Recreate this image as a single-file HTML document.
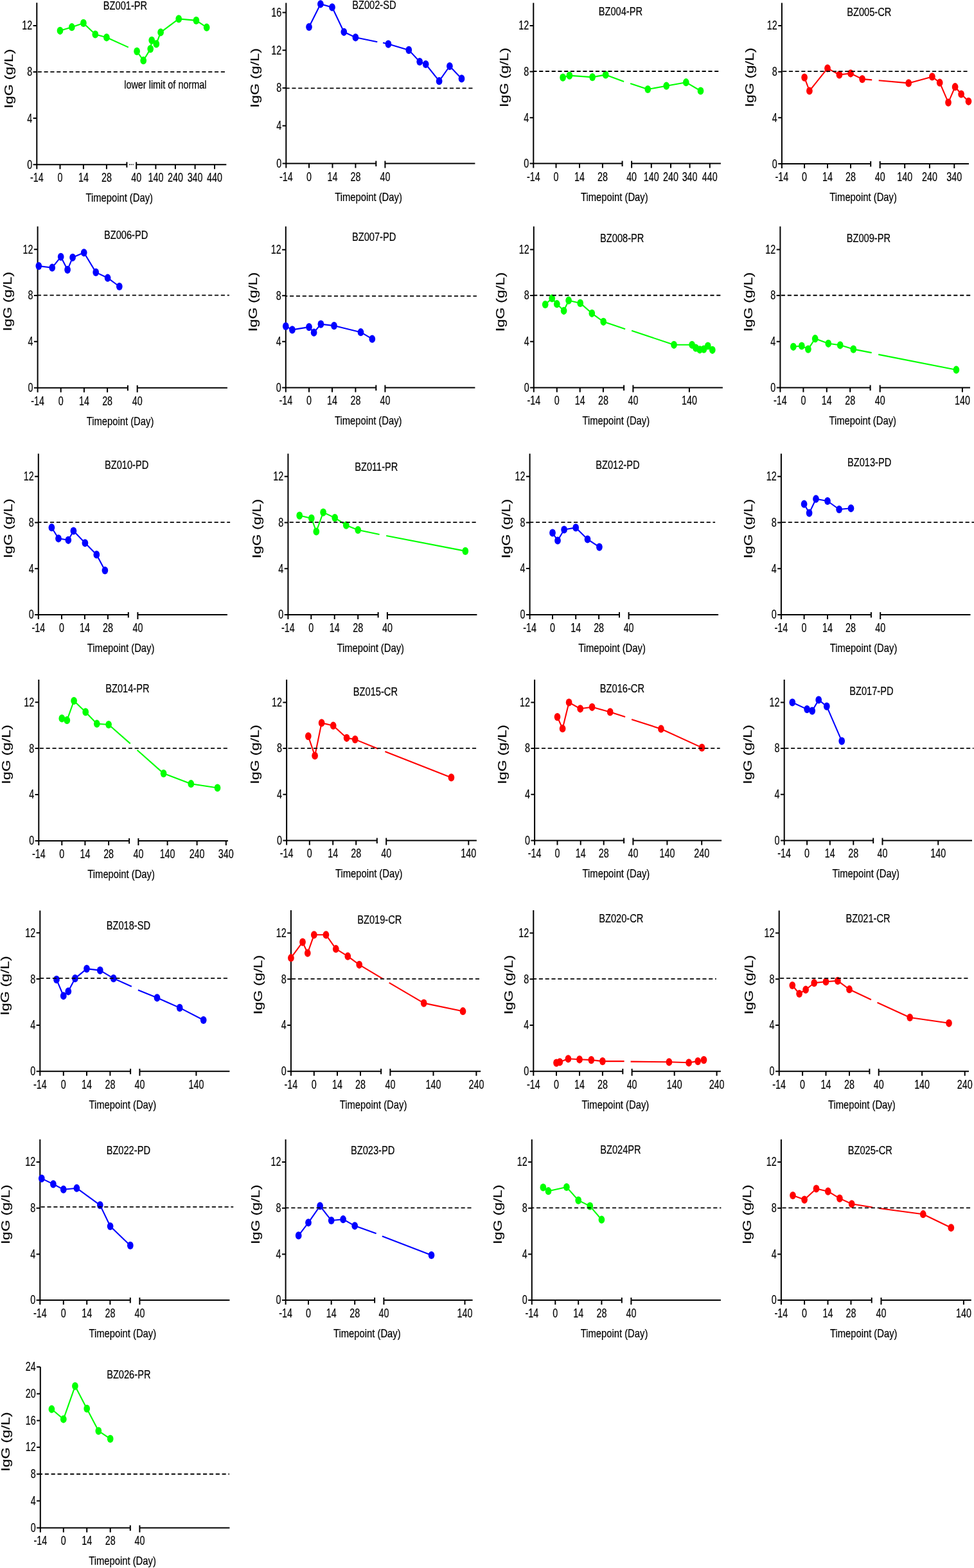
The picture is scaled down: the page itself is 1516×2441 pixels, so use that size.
<!DOCTYPE html><html><head><meta charset="utf-8"><title>IgG levels</title><style>html,body{margin:0;padding:0;background:#fff;}svg{display:block;}text{font-family:"Liberation Sans",Arial,sans-serif;fill:#000;stroke:#000;stroke-width:0.2px;}</style></head><body>
<svg width="1516" height="2441" viewBox="0 0 1516 2441">
<rect width="1516" height="2441" fill="#fff"/>
<g>
<path d="M57.3 4.3V263.2 M51.6 256.2H197.4 M212.2 256.2H352.3 M197.4 252.2V260.7 M212.2 252.2V263.2 M93.5 256.2V263.2 M129.9 256.2V263.2 M165.9 256.2V263.2 M242.4 256.2V263.2 M272.9 256.2V263.2 M303.6 256.2V263.2 M334 256.2V263.2 M51.6 39.9H57.3 M51.6 112H57.3 M51.6 184.1H57.3" stroke="#000" stroke-width="2.0" fill="none"/>
<rect x="201.05" y="255.4" width="1.3" height="1.6" fill="#000"/>
<rect x="203.65" y="255.4" width="1.3" height="1.6" fill="#000"/>
<rect x="206.35" y="255.4" width="1.3" height="1.6" fill="#000"/>
<text transform="translate(50.1 46.3) scale(0.735 1)" text-anchor="end" font-size="19.5">12</text>
<text transform="translate(50.1 118.4) scale(0.735 1)" text-anchor="end" font-size="19.5">8</text>
<text transform="translate(50.1 190.5) scale(0.735 1)" text-anchor="end" font-size="19.5">4</text>
<text transform="translate(50.1 262.6) scale(0.735 1)" text-anchor="end" font-size="19.5">0</text>
<text transform="translate(57.3 283.1) scale(0.735 1)" text-anchor="middle" font-size="19.5">-14</text>
<text transform="translate(93.5 283.1) scale(0.735 1)" text-anchor="middle" font-size="19.5">0</text>
<text transform="translate(129.9 283.1) scale(0.735 1)" text-anchor="middle" font-size="19.5">14</text>
<text transform="translate(165.9 283.1) scale(0.735 1)" text-anchor="middle" font-size="19.5">28</text>
<text transform="translate(212.2 283.1) scale(0.735 1)" text-anchor="middle" font-size="19.5">40</text>
<text transform="translate(242.4 283.1) scale(0.735 1)" text-anchor="middle" font-size="19.5">140</text>
<text transform="translate(272.9 283.1) scale(0.735 1)" text-anchor="middle" font-size="19.5">240</text>
<text transform="translate(303.6 283.1) scale(0.735 1)" text-anchor="middle" font-size="19.5">340</text>
<text transform="translate(334 283.1) scale(0.735 1)" text-anchor="middle" font-size="19.5">440</text>
<text transform="translate(185.7 314.1) scale(0.846 1)" text-anchor="middle" font-size="17.5">Timepoint (Day)</text>
<text transform="translate(20 122.5) scale(0.795 1) rotate(-90)" text-anchor="middle" font-size="23.5">IgG (g/L)</text>
<text transform="translate(194.95 14.7) scale(0.8 1)" text-anchor="middle" font-size="18.3">BZ001-PR</text>
<polyline points="93.5,47.8 111.8,42.2 129.9,35.9 148.3,53.5 165.9,58.3 199.8,73.6" fill="none" stroke="#00ff00" stroke-width="2.1" stroke-linejoin="round"/>
<polyline points="213.1,79.9 223.2,94.2 234.2,76.1 236.2,62.8 243.3,68.4 250.1,50.3 278.2,29.4 305.4,31.9 321.7,42.7" fill="none" stroke="#00ff00" stroke-width="2.1" stroke-linejoin="round"/>
<ellipse cx="93.5" cy="47.8" rx="4.85" ry="6.1" fill="#00ff00"/>
<ellipse cx="111.8" cy="42.2" rx="4.85" ry="6.1" fill="#00ff00"/>
<ellipse cx="129.9" cy="35.9" rx="4.85" ry="6.1" fill="#00ff00"/>
<ellipse cx="148.3" cy="53.5" rx="4.85" ry="6.1" fill="#00ff00"/>
<ellipse cx="165.9" cy="58.3" rx="4.85" ry="6.1" fill="#00ff00"/>
<ellipse cx="213.1" cy="79.9" rx="4.85" ry="6.1" fill="#00ff00"/>
<ellipse cx="223.2" cy="94.2" rx="4.85" ry="6.1" fill="#00ff00"/>
<ellipse cx="234.2" cy="76.1" rx="4.85" ry="6.1" fill="#00ff00"/>
<ellipse cx="236.2" cy="62.8" rx="4.85" ry="6.1" fill="#00ff00"/>
<ellipse cx="243.3" cy="68.4" rx="4.85" ry="6.1" fill="#00ff00"/>
<ellipse cx="250.1" cy="50.3" rx="4.85" ry="6.1" fill="#00ff00"/>
<ellipse cx="278.2" cy="29.4" rx="4.85" ry="6.1" fill="#00ff00"/>
<ellipse cx="305.4" cy="31.9" rx="4.85" ry="6.1" fill="#00ff00"/>
<ellipse cx="321.7" cy="42.7" rx="4.85" ry="6.1" fill="#00ff00"/>
<line x1="57.3" y1="111.9" x2="351" y2="111.9" stroke="#000" stroke-width="1.9" stroke-dasharray="6.1 3.73" stroke-dashoffset="8.38"/>
</g>
<g>
<path d="M445.3 4.5V261.6 M439.6 254.6H585.3 M599.4 254.6H739.4 M585.3 250.6V259.1 M599.4 250.6V261.6 M481 254.6V261.6 M517.5 254.6V261.6 M553.4 254.6V261.6 M439.6 19.44H445.3 M439.6 78.25H445.3 M439.6 137.06H445.3 M439.6 195.87H445.3" stroke="#000" stroke-width="2.0" fill="none"/>
<text transform="translate(438.1 25.84) scale(0.735 1)" text-anchor="end" font-size="19.5">16</text>
<text transform="translate(438.1 84.65) scale(0.735 1)" text-anchor="end" font-size="19.5">12</text>
<text transform="translate(438.1 143.46) scale(0.735 1)" text-anchor="end" font-size="19.5">8</text>
<text transform="translate(438.1 202.27) scale(0.735 1)" text-anchor="end" font-size="19.5">4</text>
<text transform="translate(438.1 261) scale(0.735 1)" text-anchor="end" font-size="19.5">0</text>
<text transform="translate(445.3 281.5) scale(0.735 1)" text-anchor="middle" font-size="19.5">-14</text>
<text transform="translate(481 281.5) scale(0.735 1)" text-anchor="middle" font-size="19.5">0</text>
<text transform="translate(517.5 281.5) scale(0.735 1)" text-anchor="middle" font-size="19.5">14</text>
<text transform="translate(553.4 281.5) scale(0.735 1)" text-anchor="middle" font-size="19.5">28</text>
<text transform="translate(599.4 281.5) scale(0.735 1)" text-anchor="middle" font-size="19.5">40</text>
<text transform="translate(573.5 312.5) scale(0.846 1)" text-anchor="middle" font-size="17.5">Timepoint (Day)</text>
<text transform="translate(402.5 121.3) scale(0.795 1) rotate(-90)" text-anchor="middle" font-size="23.5">IgG (g/L)</text>
<text transform="translate(582.4 13.8) scale(0.8 1)" text-anchor="middle" font-size="18.3">BZ002-SD</text>
<polyline points="481,42 498.9,6.3 517,11.3 535.3,49.8 553.4,58.3 587.3,65.3" fill="none" stroke="#0000ff" stroke-width="2.1" stroke-linejoin="round"/>
<polyline points="596.1,66.6 604.4,68.6 636.3,77.9 653.2,96 662.7,100 683.6,126.2 699.9,103 718.5,122.4" fill="none" stroke="#0000ff" stroke-width="2.1" stroke-linejoin="round"/>
<ellipse cx="481" cy="42" rx="4.85" ry="6.1" fill="#0000ff"/>
<ellipse cx="498.9" cy="6.3" rx="4.85" ry="6.1" fill="#0000ff"/>
<ellipse cx="517" cy="11.3" rx="4.85" ry="6.1" fill="#0000ff"/>
<ellipse cx="535.3" cy="49.8" rx="4.85" ry="6.1" fill="#0000ff"/>
<ellipse cx="553.4" cy="58.3" rx="4.85" ry="6.1" fill="#0000ff"/>
<ellipse cx="604.4" cy="68.6" rx="4.85" ry="6.1" fill="#0000ff"/>
<ellipse cx="636.3" cy="77.9" rx="4.85" ry="6.1" fill="#0000ff"/>
<ellipse cx="653.2" cy="96" rx="4.85" ry="6.1" fill="#0000ff"/>
<ellipse cx="662.7" cy="100" rx="4.85" ry="6.1" fill="#0000ff"/>
<ellipse cx="683.6" cy="126.2" rx="4.85" ry="6.1" fill="#0000ff"/>
<ellipse cx="699.9" cy="103" rx="4.85" ry="6.1" fill="#0000ff"/>
<ellipse cx="718.5" cy="122.4" rx="4.85" ry="6.1" fill="#0000ff"/>
<line x1="445.3" y1="137.4" x2="735.6" y2="137.4" stroke="#000" stroke-width="1.9" stroke-dasharray="6.1 3.72" stroke-dashoffset="0.72"/>
</g>
<g>
<path d="M830.3 4.5V261.6 M824.6 254.6H968.6 M983.1 254.6H1121.9 M968.6 250.6V259.1 M983.1 250.6V261.6 M865.5 254.6V261.6 M902 254.6V261.6 M937.9 254.6V261.6 M1013.8 254.6V261.6 M1044 254.6V261.6 M1073.6 254.6V261.6 M1104.8 254.6V261.6 M824.6 40.01H830.3 M824.6 111.57H830.3 M824.6 183.13H830.3" stroke="#000" stroke-width="2.0" fill="none"/>
<text transform="translate(823.1 46.41) scale(0.735 1)" text-anchor="end" font-size="19.5">12</text>
<text transform="translate(823.1 117.97) scale(0.735 1)" text-anchor="end" font-size="19.5">8</text>
<text transform="translate(823.1 189.53) scale(0.735 1)" text-anchor="end" font-size="19.5">4</text>
<text transform="translate(823.1 261) scale(0.735 1)" text-anchor="end" font-size="19.5">0</text>
<text transform="translate(830.3 281.5) scale(0.735 1)" text-anchor="middle" font-size="19.5">-14</text>
<text transform="translate(865.5 281.5) scale(0.735 1)" text-anchor="middle" font-size="19.5">0</text>
<text transform="translate(902 281.5) scale(0.735 1)" text-anchor="middle" font-size="19.5">14</text>
<text transform="translate(937.9 281.5) scale(0.735 1)" text-anchor="middle" font-size="19.5">28</text>
<text transform="translate(983.1 281.5) scale(0.735 1)" text-anchor="middle" font-size="19.5">40</text>
<text transform="translate(1013.8 281.5) scale(0.735 1)" text-anchor="middle" font-size="19.5">140</text>
<text transform="translate(1044 281.5) scale(0.735 1)" text-anchor="middle" font-size="19.5">240</text>
<text transform="translate(1073.6 281.5) scale(0.735 1)" text-anchor="middle" font-size="19.5">340</text>
<text transform="translate(1104.8 281.5) scale(0.735 1)" text-anchor="middle" font-size="19.5">440</text>
<text transform="translate(956.3 312.5) scale(0.846 1)" text-anchor="middle" font-size="17.5">Timepoint (Day)</text>
<text transform="translate(791.3 120.6) scale(0.795 1) rotate(-90)" text-anchor="middle" font-size="23.5">IgG (g/L)</text>
<text transform="translate(965.9 24) scale(0.8 1)" text-anchor="middle" font-size="18.3">BZ004-PR</text>
<polyline points="876.1,120.6 886.4,117.6 922.1,120.1 942.7,116.4 971.1,126.9" fill="none" stroke="#00ff00" stroke-width="2.1" stroke-linejoin="round"/>
<polyline points="981.1,129.9 1008.3,139 1037.2,133.7 1067.8,128.2 1090.5,141.5" fill="none" stroke="#00ff00" stroke-width="2.1" stroke-linejoin="round"/>
<ellipse cx="876.1" cy="120.6" rx="4.85" ry="6.1" fill="#00ff00"/>
<ellipse cx="886.4" cy="117.6" rx="4.85" ry="6.1" fill="#00ff00"/>
<ellipse cx="922.1" cy="120.1" rx="4.85" ry="6.1" fill="#00ff00"/>
<ellipse cx="942.7" cy="116.4" rx="4.85" ry="6.1" fill="#00ff00"/>
<ellipse cx="1008.3" cy="139" rx="4.85" ry="6.1" fill="#00ff00"/>
<ellipse cx="1037.2" cy="133.7" rx="4.85" ry="6.1" fill="#00ff00"/>
<ellipse cx="1067.8" cy="128.2" rx="4.85" ry="6.1" fill="#00ff00"/>
<ellipse cx="1090.5" cy="141.5" rx="4.85" ry="6.1" fill="#00ff00"/>
<line x1="830.3" y1="111" x2="1119.4" y2="111" stroke="#000" stroke-width="1.9" stroke-dasharray="6.1 3.65" stroke-dashoffset="0.9"/>
</g>
<g>
<path d="M1216.9 4.5V262.1 M1211.2 255.1H1355.2 M1369.7 255.1H1508 M1355.2 251.1V259.6 M1369.7 251.1V262.1 M1252.1 255.1V262.1 M1288 255.1V262.1 M1324 255.1V262.1 M1408.2 255.1V262.1 M1446.9 255.1V262.1 M1485.3 255.1V262.1 M1211.2 39.99H1216.9 M1211.2 111.68H1216.9 M1211.2 183.37H1216.9" stroke="#000" stroke-width="2.0" fill="none"/>
<text transform="translate(1209.7 46.39) scale(0.735 1)" text-anchor="end" font-size="19.5">12</text>
<text transform="translate(1209.7 118.08) scale(0.735 1)" text-anchor="end" font-size="19.5">8</text>
<text transform="translate(1209.7 189.77) scale(0.735 1)" text-anchor="end" font-size="19.5">4</text>
<text transform="translate(1209.7 261.5) scale(0.735 1)" text-anchor="end" font-size="19.5">0</text>
<text transform="translate(1216.9 282) scale(0.735 1)" text-anchor="middle" font-size="19.5">-14</text>
<text transform="translate(1252.1 282) scale(0.735 1)" text-anchor="middle" font-size="19.5">0</text>
<text transform="translate(1288 282) scale(0.735 1)" text-anchor="middle" font-size="19.5">14</text>
<text transform="translate(1324 282) scale(0.735 1)" text-anchor="middle" font-size="19.5">28</text>
<text transform="translate(1369.7 282) scale(0.735 1)" text-anchor="middle" font-size="19.5">40</text>
<text transform="translate(1408.2 282) scale(0.735 1)" text-anchor="middle" font-size="19.5">140</text>
<text transform="translate(1446.9 282) scale(0.735 1)" text-anchor="middle" font-size="19.5">240</text>
<text transform="translate(1485.3 282) scale(0.735 1)" text-anchor="middle" font-size="19.5">340</text>
<text transform="translate(1343.6 313) scale(0.846 1)" text-anchor="middle" font-size="17.5">Timepoint (Day)</text>
<text transform="translate(1173 120.4) scale(0.795 1) rotate(-90)" text-anchor="middle" font-size="23.5">IgG (g/L)</text>
<text transform="translate(1352.8 24.7) scale(0.8 1)" text-anchor="middle" font-size="18.3">BZ005-CR</text>
<polyline points="1252.1,120.6 1259.9,141.5 1288,106.3 1306.4,116.4 1324,114.3 1342.1,123.1 1357.2,124.4" fill="none" stroke="#ff0000" stroke-width="2.1" stroke-linejoin="round"/>
<polyline points="1367.7,125.2 1414.2,129.4 1450.9,119.4 1462.7,128.7 1476,159.6 1486.6,135.2 1496.1,146.5 1507.5,157.8" fill="none" stroke="#ff0000" stroke-width="2.1" stroke-linejoin="round"/>
<ellipse cx="1252.1" cy="120.6" rx="4.85" ry="6.1" fill="#ff0000"/>
<ellipse cx="1259.9" cy="141.5" rx="4.85" ry="6.1" fill="#ff0000"/>
<ellipse cx="1288" cy="106.3" rx="4.85" ry="6.1" fill="#ff0000"/>
<ellipse cx="1306.4" cy="116.4" rx="4.85" ry="6.1" fill="#ff0000"/>
<ellipse cx="1324" cy="114.3" rx="4.85" ry="6.1" fill="#ff0000"/>
<ellipse cx="1342.1" cy="123.1" rx="4.85" ry="6.1" fill="#ff0000"/>
<ellipse cx="1414.2" cy="129.4" rx="4.85" ry="6.1" fill="#ff0000"/>
<ellipse cx="1450.9" cy="119.4" rx="4.85" ry="6.1" fill="#ff0000"/>
<ellipse cx="1462.7" cy="128.7" rx="4.85" ry="6.1" fill="#ff0000"/>
<ellipse cx="1476" cy="159.6" rx="4.85" ry="6.1" fill="#ff0000"/>
<ellipse cx="1486.6" cy="135.2" rx="4.85" ry="6.1" fill="#ff0000"/>
<ellipse cx="1496.1" cy="146.5" rx="4.85" ry="6.1" fill="#ff0000"/>
<ellipse cx="1507.5" cy="157.8" rx="4.85" ry="6.1" fill="#ff0000"/>
<line x1="1216.9" y1="111.1" x2="1507" y2="111.1" stroke="#000" stroke-width="1.9" stroke-dasharray="6.1 3.6" stroke-dashoffset="8.4"/>
</g>
<g>
<path d="M58.6 352.6V610.7 M52.9 603.7H198.9 M213.7 603.7H353.9 M198.9 599.7V608.2 M213.7 599.7V610.7 M94.7 603.7V610.7 M130.9 603.7V610.7 M167.1 603.7V610.7 M52.9 388.17H58.6 M52.9 459.99H58.6 M52.9 531.81H58.6" stroke="#000" stroke-width="2.0" fill="none"/>
<text transform="translate(51.4 394.57) scale(0.735 1)" text-anchor="end" font-size="19.5">12</text>
<text transform="translate(51.4 466.39) scale(0.735 1)" text-anchor="end" font-size="19.5">8</text>
<text transform="translate(51.4 538.21) scale(0.735 1)" text-anchor="end" font-size="19.5">4</text>
<text transform="translate(51.4 610.1) scale(0.735 1)" text-anchor="end" font-size="19.5">0</text>
<text transform="translate(58.6 630.6) scale(0.735 1)" text-anchor="middle" font-size="19.5">-14</text>
<text transform="translate(94.7 630.6) scale(0.735 1)" text-anchor="middle" font-size="19.5">0</text>
<text transform="translate(130.9 630.6) scale(0.735 1)" text-anchor="middle" font-size="19.5">14</text>
<text transform="translate(167.1 630.6) scale(0.735 1)" text-anchor="middle" font-size="19.5">28</text>
<text transform="translate(213.7 630.6) scale(0.735 1)" text-anchor="middle" font-size="19.5">40</text>
<text transform="translate(187 661.6) scale(0.846 1)" text-anchor="middle" font-size="17.5">Timepoint (Day)</text>
<text transform="translate(18 469.25) scale(0.795 1) rotate(-90)" text-anchor="middle" font-size="23.5">IgG (g/L)</text>
<text transform="translate(196.15 371.8) scale(0.8 1)" text-anchor="middle" font-size="18.3">BZ006-PD</text>
<polyline points="60.3,414.1 81.2,416.7 94.7,399.8 105.1,419.9 113.1,400.8 130.7,393.3 149.2,423.9 167.6,432.7 185.8,446" fill="none" stroke="#0000ff" stroke-width="2.1" stroke-linejoin="round"/>
<ellipse cx="60.3" cy="414.1" rx="4.85" ry="6.1" fill="#0000ff"/>
<ellipse cx="81.2" cy="416.7" rx="4.85" ry="6.1" fill="#0000ff"/>
<ellipse cx="94.7" cy="399.8" rx="4.85" ry="6.1" fill="#0000ff"/>
<ellipse cx="105.1" cy="419.9" rx="4.85" ry="6.1" fill="#0000ff"/>
<ellipse cx="113.1" cy="400.8" rx="4.85" ry="6.1" fill="#0000ff"/>
<ellipse cx="130.7" cy="393.3" rx="4.85" ry="6.1" fill="#0000ff"/>
<ellipse cx="149.2" cy="423.9" rx="4.85" ry="6.1" fill="#0000ff"/>
<ellipse cx="167.6" cy="432.7" rx="4.85" ry="6.1" fill="#0000ff"/>
<ellipse cx="185.8" cy="446" rx="4.85" ry="6.1" fill="#0000ff"/>
<line x1="58.6" y1="459.6" x2="356.9" y2="459.6" stroke="#000" stroke-width="1.9" stroke-dasharray="6.1 3.76" stroke-dashoffset="0.7"/>
</g>
<g>
<path d="M444.8 352.6V610.4 M439.1 603.4H585.3 M599.4 603.4H739.4 M585.3 599.4V607.9 M599.4 599.4V610.4 M481 603.4V610.4 M517 603.4V610.4 M553.4 603.4V610.4 M439.1 388.69H444.8 M439.1 460.28H444.8 M439.1 531.87H444.8" stroke="#000" stroke-width="2.0" fill="none"/>
<text transform="translate(437.6 395.09) scale(0.735 1)" text-anchor="end" font-size="19.5">12</text>
<text transform="translate(437.6 466.68) scale(0.735 1)" text-anchor="end" font-size="19.5">8</text>
<text transform="translate(437.6 538.27) scale(0.735 1)" text-anchor="end" font-size="19.5">4</text>
<text transform="translate(437.6 609.8) scale(0.735 1)" text-anchor="end" font-size="19.5">0</text>
<text transform="translate(444.8 630.3) scale(0.735 1)" text-anchor="middle" font-size="19.5">-14</text>
<text transform="translate(481 630.3) scale(0.735 1)" text-anchor="middle" font-size="19.5">0</text>
<text transform="translate(517 630.3) scale(0.735 1)" text-anchor="middle" font-size="19.5">14</text>
<text transform="translate(553.4 630.3) scale(0.735 1)" text-anchor="middle" font-size="19.5">28</text>
<text transform="translate(599.4 630.3) scale(0.735 1)" text-anchor="middle" font-size="19.5">40</text>
<text transform="translate(573.2 661.3) scale(0.846 1)" text-anchor="middle" font-size="17.5">Timepoint (Day)</text>
<text transform="translate(400 470) scale(0.795 1) rotate(-90)" text-anchor="middle" font-size="23.5">IgG (g/L)</text>
<text transform="translate(582.1 374.5) scale(0.8 1)" text-anchor="middle" font-size="18.3">BZ007-PD</text>
<polyline points="444.8,507.9 454.9,513.4 481,509.1 488.6,517.7 499.4,504.6 520,507.1 561.5,517.2 579.3,527.7" fill="none" stroke="#0000ff" stroke-width="2.1" stroke-linejoin="round"/>
<ellipse cx="444.8" cy="507.9" rx="4.85" ry="6.1" fill="#0000ff"/>
<ellipse cx="454.9" cy="513.4" rx="4.85" ry="6.1" fill="#0000ff"/>
<ellipse cx="481" cy="509.1" rx="4.85" ry="6.1" fill="#0000ff"/>
<ellipse cx="488.6" cy="517.7" rx="4.85" ry="6.1" fill="#0000ff"/>
<ellipse cx="499.4" cy="504.6" rx="4.85" ry="6.1" fill="#0000ff"/>
<ellipse cx="520" cy="507.1" rx="4.85" ry="6.1" fill="#0000ff"/>
<ellipse cx="561.5" cy="517.2" rx="4.85" ry="6.1" fill="#0000ff"/>
<ellipse cx="579.3" cy="527.7" rx="4.85" ry="6.1" fill="#0000ff"/>
<line x1="444.8" y1="460.9" x2="741.9" y2="460.9" stroke="#000" stroke-width="1.9" stroke-dasharray="6.1 3.74" stroke-dashoffset="3.58"/>
</g>
<g>
<path d="M830.8 352.6V610.4 M825.1 603.4H971.1 M985.4 603.4H1124.9 M971.1 599.4V607.9 M985.4 599.4V610.4 M866.8 603.4V610.4 M902.7 603.4V610.4 M938.9 603.4V610.4 M1072.9 603.4V610.4 M825.1 388.38H830.8 M825.1 460.01H830.8 M825.1 531.64H830.8" stroke="#000" stroke-width="2.0" fill="none"/>
<text transform="translate(823.6 394.78) scale(0.735 1)" text-anchor="end" font-size="19.5">12</text>
<text transform="translate(823.6 466.41) scale(0.735 1)" text-anchor="end" font-size="19.5">8</text>
<text transform="translate(823.6 538.04) scale(0.735 1)" text-anchor="end" font-size="19.5">4</text>
<text transform="translate(823.6 609.8) scale(0.735 1)" text-anchor="end" font-size="19.5">0</text>
<text transform="translate(830.8 630.3) scale(0.735 1)" text-anchor="middle" font-size="19.5">-14</text>
<text transform="translate(866.8 630.3) scale(0.735 1)" text-anchor="middle" font-size="19.5">0</text>
<text transform="translate(902.7 630.3) scale(0.735 1)" text-anchor="middle" font-size="19.5">14</text>
<text transform="translate(938.9 630.3) scale(0.735 1)" text-anchor="middle" font-size="19.5">28</text>
<text transform="translate(985.4 630.3) scale(0.735 1)" text-anchor="middle" font-size="19.5">40</text>
<text transform="translate(1072.9 630.3) scale(0.735 1)" text-anchor="middle" font-size="19.5">140</text>
<text transform="translate(958.8 661.3) scale(0.846 1)" text-anchor="middle" font-size="17.5">Timepoint (Day)</text>
<text transform="translate(785 470) scale(0.795 1) rotate(-90)" text-anchor="middle" font-size="23.5">IgG (g/L)</text>
<text transform="translate(968.2 377) scale(0.8 1)" text-anchor="middle" font-size="18.3">BZ008-PR</text>
<polyline points="848.7,474 859.2,464.4 866.8,473.2 877.6,483.8 885.1,467.7 903.2,471.9 921.3,487.8 939.2,500.8 973.1,512.2" fill="none" stroke="#00ff00" stroke-width="2.1" stroke-linejoin="round"/>
<polyline points="983.1,514.7 1049,536.8 1077.1,536.8 1082.9,541.6 1089.2,544.3 1095.5,543.6 1101.8,538.5 1108.8,544.8" fill="none" stroke="#00ff00" stroke-width="2.1" stroke-linejoin="round"/>
<ellipse cx="848.7" cy="474" rx="4.85" ry="6.1" fill="#00ff00"/>
<ellipse cx="859.2" cy="464.4" rx="4.85" ry="6.1" fill="#00ff00"/>
<ellipse cx="866.8" cy="473.2" rx="4.85" ry="6.1" fill="#00ff00"/>
<ellipse cx="877.6" cy="483.8" rx="4.85" ry="6.1" fill="#00ff00"/>
<ellipse cx="885.1" cy="467.7" rx="4.85" ry="6.1" fill="#00ff00"/>
<ellipse cx="903.2" cy="471.9" rx="4.85" ry="6.1" fill="#00ff00"/>
<ellipse cx="921.3" cy="487.8" rx="4.85" ry="6.1" fill="#00ff00"/>
<ellipse cx="939.2" cy="500.8" rx="4.85" ry="6.1" fill="#00ff00"/>
<ellipse cx="1049" cy="536.8" rx="4.85" ry="6.1" fill="#00ff00"/>
<ellipse cx="1077.1" cy="536.8" rx="4.85" ry="6.1" fill="#00ff00"/>
<ellipse cx="1082.9" cy="541.6" rx="4.85" ry="6.1" fill="#00ff00"/>
<ellipse cx="1089.2" cy="544.3" rx="4.85" ry="6.1" fill="#00ff00"/>
<ellipse cx="1095.5" cy="543.6" rx="4.85" ry="6.1" fill="#00ff00"/>
<ellipse cx="1101.8" cy="538.5" rx="4.85" ry="6.1" fill="#00ff00"/>
<ellipse cx="1108.8" cy="544.8" rx="4.85" ry="6.1" fill="#00ff00"/>
<line x1="830.8" y1="459.7" x2="1121.9" y2="459.7" stroke="#000" stroke-width="1.9" stroke-dasharray="6.1 3.73" stroke-dashoffset="0.64"/>
</g>
<g>
<path d="M1214.4 352.6V610.4 M1208.7 603.4H1354.6 M1369.7 603.4H1510 M1354.6 599.4V607.9 M1369.7 599.4V610.4 M1250.4 603.4V610.4 M1286.8 603.4V610.4 M1323.2 603.4V610.4 M1497.9 603.4V610.4 M1208.7 388.38H1214.4 M1208.7 460.01H1214.4 M1208.7 531.64H1214.4" stroke="#000" stroke-width="2.0" fill="none"/>
<text transform="translate(1207.2 394.78) scale(0.735 1)" text-anchor="end" font-size="19.5">12</text>
<text transform="translate(1207.2 466.41) scale(0.735 1)" text-anchor="end" font-size="19.5">8</text>
<text transform="translate(1207.2 538.04) scale(0.735 1)" text-anchor="end" font-size="19.5">4</text>
<text transform="translate(1207.2 609.8) scale(0.735 1)" text-anchor="end" font-size="19.5">0</text>
<text transform="translate(1214.4 630.3) scale(0.735 1)" text-anchor="middle" font-size="19.5">-14</text>
<text transform="translate(1250.4 630.3) scale(0.735 1)" text-anchor="middle" font-size="19.5">0</text>
<text transform="translate(1286.8 630.3) scale(0.735 1)" text-anchor="middle" font-size="19.5">14</text>
<text transform="translate(1323.2 630.3) scale(0.735 1)" text-anchor="middle" font-size="19.5">28</text>
<text transform="translate(1369.7 630.3) scale(0.735 1)" text-anchor="middle" font-size="19.5">40</text>
<text transform="translate(1497.9 630.3) scale(0.735 1)" text-anchor="middle" font-size="19.5">140</text>
<text transform="translate(1342.7 661.3) scale(0.846 1)" text-anchor="middle" font-size="17.5">Timepoint (Day)</text>
<text transform="translate(1171.1 470) scale(0.795 1) rotate(-90)" text-anchor="middle" font-size="23.5">IgG (g/L)</text>
<text transform="translate(1351.9 377) scale(0.8 1)" text-anchor="middle" font-size="18.3">BZ009-PR</text>
<polyline points="1234.8,539.8 1247.8,538.5 1257.9,543.6 1268.7,527.2 1289.3,534.8 1307.7,537.3 1328.3,543.6 1356.7,549.1" fill="none" stroke="#00ff00" stroke-width="2.1" stroke-linejoin="round"/>
<polyline points="1367.2,551.9 1488.4,575.7" fill="none" stroke="#00ff00" stroke-width="2.1" stroke-linejoin="round"/>
<ellipse cx="1234.8" cy="539.8" rx="4.85" ry="6.1" fill="#00ff00"/>
<ellipse cx="1247.8" cy="538.5" rx="4.85" ry="6.1" fill="#00ff00"/>
<ellipse cx="1257.9" cy="543.6" rx="4.85" ry="6.1" fill="#00ff00"/>
<ellipse cx="1268.7" cy="527.2" rx="4.85" ry="6.1" fill="#00ff00"/>
<ellipse cx="1289.3" cy="534.8" rx="4.85" ry="6.1" fill="#00ff00"/>
<ellipse cx="1307.7" cy="537.3" rx="4.85" ry="6.1" fill="#00ff00"/>
<ellipse cx="1328.3" cy="543.6" rx="4.85" ry="6.1" fill="#00ff00"/>
<ellipse cx="1488.4" cy="575.7" rx="4.85" ry="6.1" fill="#00ff00"/>
<line x1="1214.4" y1="459.7" x2="1510.5" y2="459.7" stroke="#000" stroke-width="1.9" stroke-dasharray="6.1 3.84" stroke-dashoffset="8.5"/>
</g>
<g>
<path d="M59.8 706.3V963.9 M54.1 956.9H199.8 M214.4 956.9H353.9 M199.8 952.9V961.4 M214.4 952.9V963.9 M96 956.9V963.9 M131.9 956.9V963.9 M167.9 956.9V963.9 M54.1 741.79H59.8 M54.1 813.48H59.8 M54.1 885.17H59.8" stroke="#000" stroke-width="2.0" fill="none"/>
<text transform="translate(52.6 748.19) scale(0.735 1)" text-anchor="end" font-size="19.5">12</text>
<text transform="translate(52.6 819.88) scale(0.735 1)" text-anchor="end" font-size="19.5">8</text>
<text transform="translate(52.6 891.57) scale(0.735 1)" text-anchor="end" font-size="19.5">4</text>
<text transform="translate(52.6 963.3) scale(0.735 1)" text-anchor="end" font-size="19.5">0</text>
<text transform="translate(59.8 983.8) scale(0.735 1)" text-anchor="middle" font-size="19.5">-14</text>
<text transform="translate(96 983.8) scale(0.735 1)" text-anchor="middle" font-size="19.5">0</text>
<text transform="translate(131.9 983.8) scale(0.735 1)" text-anchor="middle" font-size="19.5">14</text>
<text transform="translate(167.9 983.8) scale(0.735 1)" text-anchor="middle" font-size="19.5">28</text>
<text transform="translate(214.4 983.8) scale(0.735 1)" text-anchor="middle" font-size="19.5">40</text>
<text transform="translate(188.1 1014.8) scale(0.846 1)" text-anchor="middle" font-size="17.5">Timepoint (Day)</text>
<text transform="translate(18.7 822.6) scale(0.795 1) rotate(-90)" text-anchor="middle" font-size="23.5">IgG (g/L)</text>
<text transform="translate(197.1 729.5) scale(0.8 1)" text-anchor="middle" font-size="18.3">BZ010-PD</text>
<polyline points="80.4,821.2 91,838.3 106.3,840.8 114.4,826.5 132.4,845.3 150.3,863.4 163.4,888" fill="none" stroke="#0000ff" stroke-width="2.1" stroke-linejoin="round"/>
<ellipse cx="80.4" cy="821.2" rx="4.85" ry="6.1" fill="#0000ff"/>
<ellipse cx="91" cy="838.3" rx="4.85" ry="6.1" fill="#0000ff"/>
<ellipse cx="106.3" cy="840.8" rx="4.85" ry="6.1" fill="#0000ff"/>
<ellipse cx="114.4" cy="826.5" rx="4.85" ry="6.1" fill="#0000ff"/>
<ellipse cx="132.4" cy="845.3" rx="4.85" ry="6.1" fill="#0000ff"/>
<ellipse cx="150.3" cy="863.4" rx="4.85" ry="6.1" fill="#0000ff"/>
<ellipse cx="163.4" cy="888" rx="4.85" ry="6.1" fill="#0000ff"/>
<line x1="59.8" y1="813.1" x2="358.1" y2="813.1" stroke="#000" stroke-width="1.9" stroke-dasharray="6.1 3.73" stroke-dashoffset="1.45"/>
</g>
<g>
<path d="M448.4 706.3V963.9 M442.7 956.9H588.6 M602.9 956.9H742.4 M588.6 952.9V961.4 M602.9 952.9V963.9 M484.3 956.9V963.9 M520.7 956.9V963.9 M557.2 956.9V963.9 M442.7 741.81H448.4 M442.7 813.52H448.4 M442.7 885.23H448.4" stroke="#000" stroke-width="2.0" fill="none"/>
<text transform="translate(441.2 748.21) scale(0.735 1)" text-anchor="end" font-size="19.5">12</text>
<text transform="translate(441.2 819.92) scale(0.735 1)" text-anchor="end" font-size="19.5">8</text>
<text transform="translate(441.2 891.63) scale(0.735 1)" text-anchor="end" font-size="19.5">4</text>
<text transform="translate(441.2 963.3) scale(0.735 1)" text-anchor="end" font-size="19.5">0</text>
<text transform="translate(448.4 983.8) scale(0.735 1)" text-anchor="middle" font-size="19.5">-14</text>
<text transform="translate(484.3 983.8) scale(0.735 1)" text-anchor="middle" font-size="19.5">0</text>
<text transform="translate(520.7 983.8) scale(0.735 1)" text-anchor="middle" font-size="19.5">14</text>
<text transform="translate(557.2 983.8) scale(0.735 1)" text-anchor="middle" font-size="19.5">28</text>
<text transform="translate(602.9 983.8) scale(0.735 1)" text-anchor="middle" font-size="19.5">40</text>
<text transform="translate(576.7 1014.8) scale(0.846 1)" text-anchor="middle" font-size="17.5">Timepoint (Day)</text>
<text transform="translate(406.3 823) scale(0.795 1) rotate(-90)" text-anchor="middle" font-size="23.5">IgG (g/L)</text>
<text transform="translate(585.8 732.9) scale(0.8 1)" text-anchor="middle" font-size="18.3">BZ011-PR</text>
<polyline points="466.2,802.6 484.8,806.9 492.3,827.5 503.1,797.6 521.2,806.1 538.8,817.7 557.2,825 590.6,832" fill="none" stroke="#00ff00" stroke-width="2.1" stroke-linejoin="round"/>
<polyline points="601.2,834 724.3,857.9" fill="none" stroke="#00ff00" stroke-width="2.1" stroke-linejoin="round"/>
<ellipse cx="466.2" cy="802.6" rx="4.85" ry="6.1" fill="#00ff00"/>
<ellipse cx="484.8" cy="806.9" rx="4.85" ry="6.1" fill="#00ff00"/>
<ellipse cx="492.3" cy="827.5" rx="4.85" ry="6.1" fill="#00ff00"/>
<ellipse cx="503.1" cy="797.6" rx="4.85" ry="6.1" fill="#00ff00"/>
<ellipse cx="521.2" cy="806.1" rx="4.85" ry="6.1" fill="#00ff00"/>
<ellipse cx="538.8" cy="817.7" rx="4.85" ry="6.1" fill="#00ff00"/>
<ellipse cx="557.2" cy="825" rx="4.85" ry="6.1" fill="#00ff00"/>
<ellipse cx="724.3" cy="857.9" rx="4.85" ry="6.1" fill="#00ff00"/>
<line x1="448.4" y1="813.1" x2="741.9" y2="813.1" stroke="#000" stroke-width="1.9" stroke-dasharray="6.1 3.69" stroke-dashoffset="7.51"/>
</g>
<g>
<path d="M824.6 706.3V963.9 M818.9 956.9H964 M978.6 956.9H1118.1 M964 952.9V961.4 M978.6 952.9V963.9 M860 956.9V963.9 M896.2 956.9V963.9 M932.1 956.9V963.9 M818.9 741.76H824.6 M818.9 813.42H824.6 M818.9 885.08H824.6" stroke="#000" stroke-width="2.0" fill="none"/>
<text transform="translate(817.4 748.16) scale(0.735 1)" text-anchor="end" font-size="19.5">12</text>
<text transform="translate(817.4 819.82) scale(0.735 1)" text-anchor="end" font-size="19.5">8</text>
<text transform="translate(817.4 891.48) scale(0.735 1)" text-anchor="end" font-size="19.5">4</text>
<text transform="translate(817.4 963.3) scale(0.735 1)" text-anchor="end" font-size="19.5">0</text>
<text transform="translate(824.6 983.8) scale(0.735 1)" text-anchor="middle" font-size="19.5">-14</text>
<text transform="translate(860 983.8) scale(0.735 1)" text-anchor="middle" font-size="19.5">0</text>
<text transform="translate(896.2 983.8) scale(0.735 1)" text-anchor="middle" font-size="19.5">14</text>
<text transform="translate(932.1 983.8) scale(0.735 1)" text-anchor="middle" font-size="19.5">28</text>
<text transform="translate(978.6 983.8) scale(0.735 1)" text-anchor="middle" font-size="19.5">40</text>
<text transform="translate(952.5 1014.8) scale(0.846 1)" text-anchor="middle" font-size="17.5">Timepoint (Day)</text>
<text transform="translate(793.8 823) scale(0.795 1) rotate(-90)" text-anchor="middle" font-size="23.5">IgG (g/L)</text>
<text transform="translate(961.4 729.6) scale(0.8 1)" text-anchor="middle" font-size="18.3">BZ012-PD</text>
<polyline points="860,829.5 868,841.5 878.1,824.5 896.2,821.4 914.5,839.5 932.9,851.6" fill="none" stroke="#0000ff" stroke-width="2.1" stroke-linejoin="round"/>
<ellipse cx="860" cy="829.5" rx="4.85" ry="6.1" fill="#0000ff"/>
<ellipse cx="868" cy="841.5" rx="4.85" ry="6.1" fill="#0000ff"/>
<ellipse cx="878.1" cy="824.5" rx="4.85" ry="6.1" fill="#0000ff"/>
<ellipse cx="896.2" cy="821.4" rx="4.85" ry="6.1" fill="#0000ff"/>
<ellipse cx="914.5" cy="839.5" rx="4.85" ry="6.1" fill="#0000ff"/>
<ellipse cx="932.9" cy="851.6" rx="4.85" ry="6.1" fill="#0000ff"/>
<line x1="824.6" y1="813.1" x2="1113.1" y2="813.1" stroke="#000" stroke-width="1.9" stroke-dasharray="6.1 3.74" stroke-dashoffset="0.42"/>
</g>
<g>
<path d="M1215.9 706.3V963.9 M1210.2 956.9H1355.9 M1370.2 956.9H1510.5 M1355.9 952.9V961.4 M1370.2 952.9V963.9 M1251.6 956.9V963.9 M1288 956.9V963.9 M1324 956.9V963.9 M1210.2 741.79H1215.9 M1210.2 813.48H1215.9 M1210.2 885.17H1215.9" stroke="#000" stroke-width="2.0" fill="none"/>
<text transform="translate(1208.7 748.19) scale(0.735 1)" text-anchor="end" font-size="19.5">12</text>
<text transform="translate(1208.7 819.88) scale(0.735 1)" text-anchor="end" font-size="19.5">8</text>
<text transform="translate(1208.7 891.57) scale(0.735 1)" text-anchor="end" font-size="19.5">4</text>
<text transform="translate(1208.7 963.3) scale(0.735 1)" text-anchor="end" font-size="19.5">0</text>
<text transform="translate(1215.9 983.8) scale(0.735 1)" text-anchor="middle" font-size="19.5">-14</text>
<text transform="translate(1251.6 983.8) scale(0.735 1)" text-anchor="middle" font-size="19.5">0</text>
<text transform="translate(1288 983.8) scale(0.735 1)" text-anchor="middle" font-size="19.5">14</text>
<text transform="translate(1324 983.8) scale(0.735 1)" text-anchor="middle" font-size="19.5">28</text>
<text transform="translate(1370.2 983.8) scale(0.735 1)" text-anchor="middle" font-size="19.5">40</text>
<text transform="translate(1344 1014.8) scale(0.846 1)" text-anchor="middle" font-size="17.5">Timepoint (Day)</text>
<text transform="translate(1171.1 823) scale(0.795 1) rotate(-90)" text-anchor="middle" font-size="23.5">IgG (g/L)</text>
<text transform="translate(1353.1 725.6) scale(0.8 1)" text-anchor="middle" font-size="18.3">BZ013-PD</text>
<polyline points="1251.6,784.7 1259.6,798.6 1270,776.7 1288,780 1306.1,793 1324.5,791.3" fill="none" stroke="#0000ff" stroke-width="2.1" stroke-linejoin="round"/>
<ellipse cx="1251.6" cy="784.7" rx="4.85" ry="6.1" fill="#0000ff"/>
<ellipse cx="1259.6" cy="798.6" rx="4.85" ry="6.1" fill="#0000ff"/>
<ellipse cx="1270" cy="776.7" rx="4.85" ry="6.1" fill="#0000ff"/>
<ellipse cx="1288" cy="780" rx="4.85" ry="6.1" fill="#0000ff"/>
<ellipse cx="1306.1" cy="793" rx="4.85" ry="6.1" fill="#0000ff"/>
<ellipse cx="1324.5" cy="791.3" rx="4.85" ry="6.1" fill="#0000ff"/>
<line x1="1215.9" y1="813.1" x2="1516" y2="813.1" stroke="#000" stroke-width="1.9" stroke-dasharray="6.1 3.75" stroke-dashoffset="8.85"/>
</g>
<g>
<path d="M60.3 1058.1V1315.9 M54.6 1308.9H201.1 M215.4 1308.9H354.9 M201.1 1304.9V1313.4 M215.4 1304.9V1315.9 M96.3 1308.9V1315.9 M132.4 1308.9V1315.9 M169.1 1308.9V1315.9 M260.6 1308.9V1315.9 M306.6 1308.9V1315.9 M351.8 1308.9V1315.9 M54.6 1093.31H60.3 M54.6 1165.12H60.3 M54.6 1236.93H60.3" stroke="#000" stroke-width="2.0" fill="none"/>
<text transform="translate(53.1 1099.71) scale(0.735 1)" text-anchor="end" font-size="19.5">12</text>
<text transform="translate(53.1 1171.52) scale(0.735 1)" text-anchor="end" font-size="19.5">8</text>
<text transform="translate(53.1 1243.33) scale(0.735 1)" text-anchor="end" font-size="19.5">4</text>
<text transform="translate(53.1 1315.3) scale(0.735 1)" text-anchor="end" font-size="19.5">0</text>
<text transform="translate(60.3 1335.8) scale(0.735 1)" text-anchor="middle" font-size="19.5">-14</text>
<text transform="translate(96.3 1335.8) scale(0.735 1)" text-anchor="middle" font-size="19.5">0</text>
<text transform="translate(132.4 1335.8) scale(0.735 1)" text-anchor="middle" font-size="19.5">14</text>
<text transform="translate(169.1 1335.8) scale(0.735 1)" text-anchor="middle" font-size="19.5">28</text>
<text transform="translate(215.4 1335.8) scale(0.735 1)" text-anchor="middle" font-size="19.5">40</text>
<text transform="translate(260.6 1335.8) scale(0.735 1)" text-anchor="middle" font-size="19.5">140</text>
<text transform="translate(306.6 1335.8) scale(0.735 1)" text-anchor="middle" font-size="19.5">240</text>
<text transform="translate(351.8 1335.8) scale(0.735 1)" text-anchor="middle" font-size="19.5">340</text>
<text transform="translate(188.6 1366.8) scale(0.846 1)" text-anchor="middle" font-size="17.5">Timepoint (Day)</text>
<text transform="translate(16.2 1174.5) scale(0.795 1) rotate(-90)" text-anchor="middle" font-size="23.5">IgG (g/L)</text>
<text transform="translate(198.4 1077.7) scale(0.8 1)" text-anchor="middle" font-size="18.3">BZ014-PR</text>
<polyline points="96.3,1118.4 104.3,1121.2 115.1,1091 133.2,1108.4 150.8,1126.7 169.1,1128 202.8,1157.6" fill="none" stroke="#00ff00" stroke-width="2.1" stroke-linejoin="round"/>
<polyline points="213.6,1167.7 254.6,1204.1 297.3,1220.2 338.5,1226.5" fill="none" stroke="#00ff00" stroke-width="2.1" stroke-linejoin="round"/>
<ellipse cx="96.3" cy="1118.4" rx="4.85" ry="6.1" fill="#00ff00"/>
<ellipse cx="104.3" cy="1121.2" rx="4.85" ry="6.1" fill="#00ff00"/>
<ellipse cx="115.1" cy="1091" rx="4.85" ry="6.1" fill="#00ff00"/>
<ellipse cx="133.2" cy="1108.4" rx="4.85" ry="6.1" fill="#00ff00"/>
<ellipse cx="150.8" cy="1126.7" rx="4.85" ry="6.1" fill="#00ff00"/>
<ellipse cx="169.1" cy="1128" rx="4.85" ry="6.1" fill="#00ff00"/>
<ellipse cx="254.6" cy="1204.1" rx="4.85" ry="6.1" fill="#00ff00"/>
<ellipse cx="297.3" cy="1220.2" rx="4.85" ry="6.1" fill="#00ff00"/>
<ellipse cx="338.5" cy="1226.5" rx="4.85" ry="6.1" fill="#00ff00"/>
<line x1="60.3" y1="1164.9" x2="354.4" y2="1164.9" stroke="#000" stroke-width="1.9" stroke-dasharray="6.1 3.76" stroke-dashoffset="8.38"/>
</g>
<g>
<path d="M446.1 1058.1V1315.4 M440.4 1308.4H586.8 M601.2 1308.4H741.9 M586.8 1304.4V1312.9 M601.2 1304.4V1315.4 M481.8 1308.4V1315.4 M518.2 1308.4V1315.4 M554.2 1308.4V1315.4 M729.3 1308.4V1315.4 M440.4 1093.41H446.1 M440.4 1165.07H446.1 M440.4 1236.73H446.1" stroke="#000" stroke-width="2.0" fill="none"/>
<text transform="translate(438.9 1099.81) scale(0.735 1)" text-anchor="end" font-size="19.5">12</text>
<text transform="translate(438.9 1171.47) scale(0.735 1)" text-anchor="end" font-size="19.5">8</text>
<text transform="translate(438.9 1243.13) scale(0.735 1)" text-anchor="end" font-size="19.5">4</text>
<text transform="translate(438.9 1314.8) scale(0.735 1)" text-anchor="end" font-size="19.5">0</text>
<text transform="translate(446.1 1335.3) scale(0.735 1)" text-anchor="middle" font-size="19.5">-14</text>
<text transform="translate(481.8 1335.3) scale(0.735 1)" text-anchor="middle" font-size="19.5">0</text>
<text transform="translate(518.2 1335.3) scale(0.735 1)" text-anchor="middle" font-size="19.5">14</text>
<text transform="translate(554.2 1335.3) scale(0.735 1)" text-anchor="middle" font-size="19.5">28</text>
<text transform="translate(601.2 1335.3) scale(0.735 1)" text-anchor="middle" font-size="19.5">40</text>
<text transform="translate(729.3 1335.3) scale(0.735 1)" text-anchor="middle" font-size="19.5">140</text>
<text transform="translate(574.2 1366.3) scale(0.846 1)" text-anchor="middle" font-size="17.5">Timepoint (Day)</text>
<text transform="translate(402.5 1174.5) scale(0.795 1) rotate(-90)" text-anchor="middle" font-size="23.5">IgG (g/L)</text>
<text transform="translate(584.4 1082.6) scale(0.8 1)" text-anchor="middle" font-size="18.3">BZ015-CR</text>
<polyline points="479.8,1146.1 490.1,1176.5 500.6,1125.4 518.7,1129.7 539.6,1148.8 552.7,1151.1 588.6,1165.7" fill="none" stroke="#ff0000" stroke-width="2.1" stroke-linejoin="round"/>
<polyline points="599.4,1169.9 702.4,1210.4" fill="none" stroke="#ff0000" stroke-width="2.1" stroke-linejoin="round"/>
<ellipse cx="479.8" cy="1146.1" rx="4.85" ry="6.1" fill="#ff0000"/>
<ellipse cx="490.1" cy="1176.5" rx="4.85" ry="6.1" fill="#ff0000"/>
<ellipse cx="500.6" cy="1125.4" rx="4.85" ry="6.1" fill="#ff0000"/>
<ellipse cx="518.7" cy="1129.7" rx="4.85" ry="6.1" fill="#ff0000"/>
<ellipse cx="539.6" cy="1148.8" rx="4.85" ry="6.1" fill="#ff0000"/>
<ellipse cx="552.7" cy="1151.1" rx="4.85" ry="6.1" fill="#ff0000"/>
<ellipse cx="702.4" cy="1210.4" rx="4.85" ry="6.1" fill="#ff0000"/>
<line x1="446.1" y1="1164.9" x2="741.9" y2="1164.9" stroke="#000" stroke-width="1.9" stroke-dasharray="6.1 3.78" stroke-dashoffset="7.48"/>
</g>
<g>
<path d="M832.1 1058.1V1315.4 M826.4 1308.4H971.1 M985.4 1308.4H1123.1 M971.1 1304.4V1312.9 M985.4 1304.4V1315.4 M867.5 1308.4V1315.4 M903.7 1308.4V1315.4 M939.7 1308.4V1315.4 M1038.4 1308.4V1315.4 M1092.2 1308.4V1315.4 M826.4 1093.41H832.1 M826.4 1165.07H832.1 M826.4 1236.73H832.1" stroke="#000" stroke-width="2.0" fill="none"/>
<text transform="translate(824.9 1099.81) scale(0.735 1)" text-anchor="end" font-size="19.5">12</text>
<text transform="translate(824.9 1171.47) scale(0.735 1)" text-anchor="end" font-size="19.5">8</text>
<text transform="translate(824.9 1243.13) scale(0.735 1)" text-anchor="end" font-size="19.5">4</text>
<text transform="translate(824.9 1314.8) scale(0.735 1)" text-anchor="end" font-size="19.5">0</text>
<text transform="translate(832.1 1335.3) scale(0.735 1)" text-anchor="middle" font-size="19.5">-14</text>
<text transform="translate(867.5 1335.3) scale(0.735 1)" text-anchor="middle" font-size="19.5">0</text>
<text transform="translate(903.7 1335.3) scale(0.735 1)" text-anchor="middle" font-size="19.5">14</text>
<text transform="translate(939.7 1335.3) scale(0.735 1)" text-anchor="middle" font-size="19.5">28</text>
<text transform="translate(985.4 1335.3) scale(0.735 1)" text-anchor="middle" font-size="19.5">40</text>
<text transform="translate(1038.4 1335.3) scale(0.735 1)" text-anchor="middle" font-size="19.5">140</text>
<text transform="translate(1092.2 1335.3) scale(0.735 1)" text-anchor="middle" font-size="19.5">240</text>
<text transform="translate(958.9 1366.3) scale(0.846 1)" text-anchor="middle" font-size="17.5">Timepoint (Day)</text>
<text transform="translate(787.5 1174.5) scale(0.795 1) rotate(-90)" text-anchor="middle" font-size="23.5">IgG (g/L)</text>
<text transform="translate(968.4 1077.7) scale(0.8 1)" text-anchor="middle" font-size="18.3">BZ016-CR</text>
<polyline points="867.5,1116.1 875.6,1134.2 885.6,1093.5 903.2,1103.3 921.6,1100.8 949.7,1108.4 973.1,1115.9" fill="none" stroke="#ff0000" stroke-width="2.1" stroke-linejoin="round"/>
<polyline points="983.1,1119.9 1028.9,1134.7 1092.5,1163.9" fill="none" stroke="#ff0000" stroke-width="2.1" stroke-linejoin="round"/>
<ellipse cx="867.5" cy="1116.1" rx="4.85" ry="6.1" fill="#ff0000"/>
<ellipse cx="875.6" cy="1134.2" rx="4.85" ry="6.1" fill="#ff0000"/>
<ellipse cx="885.6" cy="1093.5" rx="4.85" ry="6.1" fill="#ff0000"/>
<ellipse cx="903.2" cy="1103.3" rx="4.85" ry="6.1" fill="#ff0000"/>
<ellipse cx="921.6" cy="1100.8" rx="4.85" ry="6.1" fill="#ff0000"/>
<ellipse cx="949.7" cy="1108.4" rx="4.85" ry="6.1" fill="#ff0000"/>
<ellipse cx="1028.9" cy="1134.7" rx="4.85" ry="6.1" fill="#ff0000"/>
<ellipse cx="1092.5" cy="1163.9" rx="4.85" ry="6.1" fill="#ff0000"/>
<line x1="832.1" y1="1164.9" x2="1120.6" y2="1164.9" stroke="#000" stroke-width="1.9" stroke-dasharray="6.1 3.65" stroke-dashoffset="8.65"/>
</g>
<g>
<path d="M1220.7 1058.1V1315.4 M1215 1308.4H1359.2 M1373.5 1308.4H1513 M1359.2 1304.4V1312.9 M1373.5 1304.4V1315.4 M1256.1 1308.4V1315.4 M1291.8 1308.4V1315.4 M1328.3 1308.4V1315.4 M1460.2 1308.4V1315.4 M1215 1093.41H1220.7 M1215 1165.07H1220.7 M1215 1236.73H1220.7" stroke="#000" stroke-width="2.0" fill="none"/>
<text transform="translate(1213.5 1099.81) scale(0.735 1)" text-anchor="end" font-size="19.5">12</text>
<text transform="translate(1213.5 1171.47) scale(0.735 1)" text-anchor="end" font-size="19.5">8</text>
<text transform="translate(1213.5 1243.13) scale(0.735 1)" text-anchor="end" font-size="19.5">4</text>
<text transform="translate(1213.5 1314.8) scale(0.735 1)" text-anchor="end" font-size="19.5">0</text>
<text transform="translate(1220.7 1335.3) scale(0.735 1)" text-anchor="middle" font-size="19.5">-14</text>
<text transform="translate(1256.1 1335.3) scale(0.735 1)" text-anchor="middle" font-size="19.5">0</text>
<text transform="translate(1291.8 1335.3) scale(0.735 1)" text-anchor="middle" font-size="19.5">14</text>
<text transform="translate(1328.3 1335.3) scale(0.735 1)" text-anchor="middle" font-size="19.5">28</text>
<text transform="translate(1373.5 1335.3) scale(0.735 1)" text-anchor="middle" font-size="19.5">40</text>
<text transform="translate(1460.2 1335.3) scale(0.735 1)" text-anchor="middle" font-size="19.5">140</text>
<text transform="translate(1347.7 1366.3) scale(0.846 1)" text-anchor="middle" font-size="17.5">Timepoint (Day)</text>
<text transform="translate(1169.8 1174.5) scale(0.795 1) rotate(-90)" text-anchor="middle" font-size="23.5">IgG (g/L)</text>
<text transform="translate(1356.4 1081.7) scale(0.8 1)" text-anchor="middle" font-size="18.3">BZ017-PD</text>
<polyline points="1233.3,1093.5 1256.1,1104.1 1264.2,1106.6 1274.2,1089.5 1286.8,1099.6 1310.2,1153.6" fill="none" stroke="#0000ff" stroke-width="2.1" stroke-linejoin="round"/>
<ellipse cx="1233.3" cy="1093.5" rx="4.85" ry="6.1" fill="#0000ff"/>
<ellipse cx="1256.1" cy="1104.1" rx="4.85" ry="6.1" fill="#0000ff"/>
<ellipse cx="1264.2" cy="1106.6" rx="4.85" ry="6.1" fill="#0000ff"/>
<ellipse cx="1274.2" cy="1089.5" rx="4.85" ry="6.1" fill="#0000ff"/>
<ellipse cx="1286.8" cy="1099.6" rx="4.85" ry="6.1" fill="#0000ff"/>
<ellipse cx="1310.2" cy="1153.6" rx="4.85" ry="6.1" fill="#0000ff"/>
<line x1="1220.7" y1="1164.9" x2="1515.5" y2="1164.9" stroke="#000" stroke-width="1.9" stroke-dasharray="6.1 3.65" stroke-dashoffset="9.1"/>
</g>
<g>
<path d="M62.3 1417.6V1674.7 M56.6 1667.7H203.1 M217.4 1667.7H357.4 M203.1 1663.7V1672.2 M217.4 1663.7V1674.7 M98.8 1667.7V1674.7 M135 1667.7V1674.7 M171.4 1667.7V1674.7 M305.4 1667.7V1674.7 M56.6 1452.31H62.3 M56.6 1524.12H62.3 M56.6 1595.93H62.3" stroke="#000" stroke-width="2.0" fill="none"/>
<text transform="translate(55.1 1458.71) scale(0.735 1)" text-anchor="end" font-size="19.5">12</text>
<text transform="translate(55.1 1530.52) scale(0.735 1)" text-anchor="end" font-size="19.5">8</text>
<text transform="translate(55.1 1602.33) scale(0.735 1)" text-anchor="end" font-size="19.5">4</text>
<text transform="translate(55.1 1674.1) scale(0.735 1)" text-anchor="end" font-size="19.5">0</text>
<text transform="translate(62.3 1694.6) scale(0.735 1)" text-anchor="middle" font-size="19.5">-14</text>
<text transform="translate(98.8 1694.6) scale(0.735 1)" text-anchor="middle" font-size="19.5">0</text>
<text transform="translate(135 1694.6) scale(0.735 1)" text-anchor="middle" font-size="19.5">14</text>
<text transform="translate(171.4 1694.6) scale(0.735 1)" text-anchor="middle" font-size="19.5">28</text>
<text transform="translate(217.4 1694.6) scale(0.735 1)" text-anchor="middle" font-size="19.5">40</text>
<text transform="translate(305.4 1694.6) scale(0.735 1)" text-anchor="middle" font-size="19.5">140</text>
<text transform="translate(190.8 1725.6) scale(0.846 1)" text-anchor="middle" font-size="17.5">Timepoint (Day)</text>
<text transform="translate(13.7 1534.5) scale(0.795 1) rotate(-90)" text-anchor="middle" font-size="23.5">IgG (g/L)</text>
<text transform="translate(199.9 1446.7) scale(0.8 1)" text-anchor="middle" font-size="18.3">BZ018-SD</text>
<polyline points="88,1524.9 98.8,1550.3 106.3,1543.3 116.9,1523.1 135,1508.1 155.8,1510.6 176.7,1523.1 204.8,1535.7" fill="none" stroke="#0000ff" stroke-width="2.1" stroke-linejoin="round"/>
<polyline points="214.9,1541.2 244.5,1553.3 279.7,1568.9 316.7,1588" fill="none" stroke="#0000ff" stroke-width="2.1" stroke-linejoin="round"/>
<ellipse cx="88" cy="1524.9" rx="4.85" ry="6.1" fill="#0000ff"/>
<ellipse cx="98.8" cy="1550.3" rx="4.85" ry="6.1" fill="#0000ff"/>
<ellipse cx="106.3" cy="1543.3" rx="4.85" ry="6.1" fill="#0000ff"/>
<ellipse cx="116.9" cy="1523.1" rx="4.85" ry="6.1" fill="#0000ff"/>
<ellipse cx="135" cy="1508.1" rx="4.85" ry="6.1" fill="#0000ff"/>
<ellipse cx="155.8" cy="1510.6" rx="4.85" ry="6.1" fill="#0000ff"/>
<ellipse cx="176.7" cy="1523.1" rx="4.85" ry="6.1" fill="#0000ff"/>
<ellipse cx="244.5" cy="1553.3" rx="4.85" ry="6.1" fill="#0000ff"/>
<ellipse cx="279.7" cy="1568.9" rx="4.85" ry="6.1" fill="#0000ff"/>
<ellipse cx="316.7" cy="1588" rx="4.85" ry="6.1" fill="#0000ff"/>
<line x1="62.3" y1="1522.9" x2="354.4" y2="1522.9" stroke="#000" stroke-width="1.9" stroke-dasharray="6.1 3.75" stroke-dashoffset="0.15"/>
</g>
<g>
<path d="M452.9 1417.1V1674.7 M447.2 1667.7H593.1 M607.4 1667.7H748.2 M593.1 1663.7V1672.2 M607.4 1663.7V1674.7 M488.8 1667.7V1674.7 M525 1667.7V1674.7 M561 1667.7V1674.7 M674.5 1667.7V1674.7 M741.4 1667.7V1674.7 M447.2 1452.58H452.9 M447.2 1524.26H452.9 M447.2 1595.94H452.9" stroke="#000" stroke-width="2.0" fill="none"/>
<text transform="translate(445.7 1458.98) scale(0.735 1)" text-anchor="end" font-size="19.5">12</text>
<text transform="translate(445.7 1530.66) scale(0.735 1)" text-anchor="end" font-size="19.5">8</text>
<text transform="translate(445.7 1602.34) scale(0.735 1)" text-anchor="end" font-size="19.5">4</text>
<text transform="translate(445.7 1674.1) scale(0.735 1)" text-anchor="end" font-size="19.5">0</text>
<text transform="translate(452.9 1694.6) scale(0.735 1)" text-anchor="middle" font-size="19.5">-14</text>
<text transform="translate(488.8 1694.6) scale(0.735 1)" text-anchor="middle" font-size="19.5">0</text>
<text transform="translate(525 1694.6) scale(0.735 1)" text-anchor="middle" font-size="19.5">14</text>
<text transform="translate(561 1694.6) scale(0.735 1)" text-anchor="middle" font-size="19.5">28</text>
<text transform="translate(607.4 1694.6) scale(0.735 1)" text-anchor="middle" font-size="19.5">40</text>
<text transform="translate(674.5 1694.6) scale(0.735 1)" text-anchor="middle" font-size="19.5">140</text>
<text transform="translate(741.4 1694.6) scale(0.735 1)" text-anchor="middle" font-size="19.5">240</text>
<text transform="translate(581 1725.6) scale(0.846 1)" text-anchor="middle" font-size="17.5">Timepoint (Day)</text>
<text transform="translate(407.5 1533) scale(0.795 1) rotate(-90)" text-anchor="middle" font-size="23.5">IgG (g/L)</text>
<text transform="translate(590.8 1437.7) scale(0.8 1)" text-anchor="middle" font-size="18.3">BZ019-CR</text>
<polyline points="452.9,1491.2 471,1466.6 478.8,1483.7 488.8,1455.3 507.4,1455.3 522.8,1477.2 541.3,1488.7 559.2,1501.8 595.6,1523.6" fill="none" stroke="#ff0000" stroke-width="2.1" stroke-linejoin="round"/>
<polyline points="605.7,1529.9 659.7,1561.6 720.5,1574.2" fill="none" stroke="#ff0000" stroke-width="2.1" stroke-linejoin="round"/>
<ellipse cx="452.9" cy="1491.2" rx="4.85" ry="6.1" fill="#ff0000"/>
<ellipse cx="471" cy="1466.6" rx="4.85" ry="6.1" fill="#ff0000"/>
<ellipse cx="478.8" cy="1483.7" rx="4.85" ry="6.1" fill="#ff0000"/>
<ellipse cx="488.8" cy="1455.3" rx="4.85" ry="6.1" fill="#ff0000"/>
<ellipse cx="507.4" cy="1455.3" rx="4.85" ry="6.1" fill="#ff0000"/>
<ellipse cx="522.8" cy="1477.2" rx="4.85" ry="6.1" fill="#ff0000"/>
<ellipse cx="541.3" cy="1488.7" rx="4.85" ry="6.1" fill="#ff0000"/>
<ellipse cx="559.2" cy="1501.8" rx="4.85" ry="6.1" fill="#ff0000"/>
<ellipse cx="659.7" cy="1561.6" rx="4.85" ry="6.1" fill="#ff0000"/>
<ellipse cx="720.5" cy="1574.2" rx="4.85" ry="6.1" fill="#ff0000"/>
<line x1="452.9" y1="1523.9" x2="746.9" y2="1523.9" stroke="#000" stroke-width="1.9" stroke-dasharray="6.1 3.76" stroke-dashoffset="8.8"/>
</g>
<g>
<path d="M830.3 1417.1V1674.7 M824.6 1667.7H969.3 M983.6 1667.7H1121.9 M969.3 1663.7V1672.2 M983.6 1663.7V1674.7 M866 1667.7V1674.7 M902 1667.7V1674.7 M937.9 1667.7V1674.7 M1049.7 1667.7V1674.7 M1115.6 1667.7V1674.7 M824.6 1452.58H830.3 M824.6 1524.26H830.3 M824.6 1595.94H830.3" stroke="#000" stroke-width="2.0" fill="none"/>
<text transform="translate(823.1 1458.98) scale(0.735 1)" text-anchor="end" font-size="19.5">12</text>
<text transform="translate(823.1 1530.66) scale(0.735 1)" text-anchor="end" font-size="19.5">8</text>
<text transform="translate(823.1 1602.34) scale(0.735 1)" text-anchor="end" font-size="19.5">4</text>
<text transform="translate(823.1 1674.1) scale(0.735 1)" text-anchor="end" font-size="19.5">0</text>
<text transform="translate(830.3 1694.6) scale(0.735 1)" text-anchor="middle" font-size="19.5">-14</text>
<text transform="translate(866 1694.6) scale(0.735 1)" text-anchor="middle" font-size="19.5">0</text>
<text transform="translate(902 1694.6) scale(0.735 1)" text-anchor="middle" font-size="19.5">14</text>
<text transform="translate(937.9 1694.6) scale(0.735 1)" text-anchor="middle" font-size="19.5">28</text>
<text transform="translate(983.6 1694.6) scale(0.735 1)" text-anchor="middle" font-size="19.5">40</text>
<text transform="translate(1049.7 1694.6) scale(0.735 1)" text-anchor="middle" font-size="19.5">140</text>
<text transform="translate(1115.6 1694.6) scale(0.735 1)" text-anchor="middle" font-size="19.5">240</text>
<text transform="translate(957.9 1725.6) scale(0.846 1)" text-anchor="middle" font-size="17.5">Timepoint (Day)</text>
<text transform="translate(797.5 1533) scale(0.795 1) rotate(-90)" text-anchor="middle" font-size="23.5">IgG (g/L)</text>
<text transform="translate(966.8 1435.5) scale(0.8 1)" text-anchor="middle" font-size="18.3">BZ020-CR</text>
<polyline points="866,1654.6 871.3,1653.3 884.4,1648.3 902,1649.3 920.3,1650.1 937.9,1652.1 971.6,1652.1" fill="none" stroke="#ff0000" stroke-width="2.1" stroke-linejoin="round"/>
<polyline points="981.6,1652.6 1041.4,1653.3 1072.1,1654.3 1086.2,1652.1 1095.5,1650.1" fill="none" stroke="#ff0000" stroke-width="2.1" stroke-linejoin="round"/>
<ellipse cx="866" cy="1654.6" rx="4.85" ry="6.1" fill="#ff0000"/>
<ellipse cx="871.3" cy="1653.3" rx="4.85" ry="6.1" fill="#ff0000"/>
<ellipse cx="884.4" cy="1648.3" rx="4.85" ry="6.1" fill="#ff0000"/>
<ellipse cx="902" cy="1649.3" rx="4.85" ry="6.1" fill="#ff0000"/>
<ellipse cx="920.3" cy="1650.1" rx="4.85" ry="6.1" fill="#ff0000"/>
<ellipse cx="937.9" cy="1652.1" rx="4.85" ry="6.1" fill="#ff0000"/>
<ellipse cx="1041.4" cy="1653.3" rx="4.85" ry="6.1" fill="#ff0000"/>
<ellipse cx="1072.1" cy="1654.3" rx="4.85" ry="6.1" fill="#ff0000"/>
<ellipse cx="1086.2" cy="1652.1" rx="4.85" ry="6.1" fill="#ff0000"/>
<ellipse cx="1095.5" cy="1650.1" rx="4.85" ry="6.1" fill="#ff0000"/>
<line x1="830.3" y1="1523.9" x2="1114.8" y2="1523.9" stroke="#000" stroke-width="1.9" stroke-dasharray="6.1 3.69" stroke-dashoffset="1.22"/>
</g>
<g>
<path d="M1212.7 1417.6V1674.7 M1207 1667.7H1353.4 M1367.7 1667.7H1508 M1353.4 1663.7V1672.2 M1367.7 1663.7V1674.7 M1249.1 1667.7V1674.7 M1285.5 1667.7V1674.7 M1322 1667.7V1674.7 M1435.1 1667.7V1674.7 M1501.7 1667.7V1674.7 M1207 1452.58H1212.7 M1207 1524.26H1212.7 M1207 1595.94H1212.7" stroke="#000" stroke-width="2.0" fill="none"/>
<text transform="translate(1205.5 1458.98) scale(0.735 1)" text-anchor="end" font-size="19.5">12</text>
<text transform="translate(1205.5 1530.66) scale(0.735 1)" text-anchor="end" font-size="19.5">8</text>
<text transform="translate(1205.5 1602.34) scale(0.735 1)" text-anchor="end" font-size="19.5">4</text>
<text transform="translate(1205.5 1674.1) scale(0.735 1)" text-anchor="end" font-size="19.5">0</text>
<text transform="translate(1212.7 1694.6) scale(0.735 1)" text-anchor="middle" font-size="19.5">-14</text>
<text transform="translate(1249.1 1694.6) scale(0.735 1)" text-anchor="middle" font-size="19.5">0</text>
<text transform="translate(1285.5 1694.6) scale(0.735 1)" text-anchor="middle" font-size="19.5">14</text>
<text transform="translate(1322 1694.6) scale(0.735 1)" text-anchor="middle" font-size="19.5">28</text>
<text transform="translate(1367.7 1694.6) scale(0.735 1)" text-anchor="middle" font-size="19.5">40</text>
<text transform="translate(1435.1 1694.6) scale(0.735 1)" text-anchor="middle" font-size="19.5">140</text>
<text transform="translate(1501.7 1694.6) scale(0.735 1)" text-anchor="middle" font-size="19.5">240</text>
<text transform="translate(1341.3 1725.6) scale(0.846 1)" text-anchor="middle" font-size="17.5">Timepoint (Day)</text>
<text transform="translate(1172.3 1533) scale(0.795 1) rotate(-90)" text-anchor="middle" font-size="23.5">IgG (g/L)</text>
<text transform="translate(1351 1435.5) scale(0.8 1)" text-anchor="middle" font-size="18.3">BZ021-CR</text>
<polyline points="1233.3,1534 1244.1,1547 1254.1,1540.7 1267.2,1530.2 1285.5,1528.2 1303.9,1526.9 1322,1540.2 1355.9,1556.3" fill="none" stroke="#ff0000" stroke-width="2.1" stroke-linejoin="round"/>
<polyline points="1365.5,1560.8 1416.2,1584 1477,1592.8" fill="none" stroke="#ff0000" stroke-width="2.1" stroke-linejoin="round"/>
<ellipse cx="1233.3" cy="1534" rx="4.85" ry="6.1" fill="#ff0000"/>
<ellipse cx="1244.1" cy="1547" rx="4.85" ry="6.1" fill="#ff0000"/>
<ellipse cx="1254.1" cy="1540.7" rx="4.85" ry="6.1" fill="#ff0000"/>
<ellipse cx="1267.2" cy="1530.2" rx="4.85" ry="6.1" fill="#ff0000"/>
<ellipse cx="1285.5" cy="1528.2" rx="4.85" ry="6.1" fill="#ff0000"/>
<ellipse cx="1303.9" cy="1526.9" rx="4.85" ry="6.1" fill="#ff0000"/>
<ellipse cx="1322" cy="1540.2" rx="4.85" ry="6.1" fill="#ff0000"/>
<ellipse cx="1416.2" cy="1584" rx="4.85" ry="6.1" fill="#ff0000"/>
<ellipse cx="1477" cy="1592.8" rx="4.85" ry="6.1" fill="#ff0000"/>
<line x1="1212.7" y1="1522.9" x2="1506.7" y2="1522.9" stroke="#000" stroke-width="1.9" stroke-dasharray="6.1 3.77" stroke-dashoffset="8.46"/>
</g>
<g>
<path d="M62.3 1773.8V2030.9 M56.6 2023.9H202.8 M217.4 2023.9H357.4 M202.8 2019.9V2028.4 M217.4 2019.9V2030.9 M98.8 2023.9V2030.9 M135.2 2023.9V2030.9 M171.4 2023.9V2030.9 M56.6 1809.04H62.3 M56.6 1880.73H62.3 M56.6 1952.42H62.3" stroke="#000" stroke-width="2.0" fill="none"/>
<text transform="translate(55.1 1815.44) scale(0.735 1)" text-anchor="end" font-size="19.5">12</text>
<text transform="translate(55.1 1887.13) scale(0.735 1)" text-anchor="end" font-size="19.5">8</text>
<text transform="translate(55.1 1958.82) scale(0.735 1)" text-anchor="end" font-size="19.5">4</text>
<text transform="translate(55.1 2030.3) scale(0.735 1)" text-anchor="end" font-size="19.5">0</text>
<text transform="translate(62.3 2050.8) scale(0.735 1)" text-anchor="middle" font-size="19.5">-14</text>
<text transform="translate(98.8 2050.8) scale(0.735 1)" text-anchor="middle" font-size="19.5">0</text>
<text transform="translate(135.2 2050.8) scale(0.735 1)" text-anchor="middle" font-size="19.5">14</text>
<text transform="translate(171.4 2050.8) scale(0.735 1)" text-anchor="middle" font-size="19.5">28</text>
<text transform="translate(217.4 2050.8) scale(0.735 1)" text-anchor="middle" font-size="19.5">40</text>
<text transform="translate(190.8 2081.8) scale(0.846 1)" text-anchor="middle" font-size="17.5">Timepoint (Day)</text>
<text transform="translate(14.9 1890.6) scale(0.795 1) rotate(-90)" text-anchor="middle" font-size="23.5">IgG (g/L)</text>
<text transform="translate(199.8 1796.7) scale(0.8 1)" text-anchor="middle" font-size="18.3">BZ022-PD</text>
<polyline points="64.8,1834.6 82.9,1843.4 98.8,1851.7 119.4,1849.7 155.8,1876.1 171.6,1909 202.8,1938.9" fill="none" stroke="#0000ff" stroke-width="2.1" stroke-linejoin="round"/>
<ellipse cx="64.8" cy="1834.6" rx="4.85" ry="6.1" fill="#0000ff"/>
<ellipse cx="82.9" cy="1843.4" rx="4.85" ry="6.1" fill="#0000ff"/>
<ellipse cx="98.8" cy="1851.7" rx="4.85" ry="6.1" fill="#0000ff"/>
<ellipse cx="119.4" cy="1849.7" rx="4.85" ry="6.1" fill="#0000ff"/>
<ellipse cx="155.8" cy="1876.1" rx="4.85" ry="6.1" fill="#0000ff"/>
<ellipse cx="171.6" cy="1909" rx="4.85" ry="6.1" fill="#0000ff"/>
<ellipse cx="202.8" cy="1938.9" rx="4.85" ry="6.1" fill="#0000ff"/>
<line x1="62.3" y1="1878.9" x2="363.2" y2="1878.9" stroke="#000" stroke-width="1.9" stroke-dasharray="6.1 3.76" stroke-dashoffset="8.54"/>
</g>
<g>
<path d="M444.6 1773.8V2030.9 M438.9 2023.9H583.1 M597.4 2023.9H735.6 M583.1 2019.9V2028.4 M597.4 2019.9V2030.9 M480 2023.9V2030.9 M515.7 2023.9V2030.9 M552.2 2023.9V2030.9 M723.5 2023.9V2030.9 M438.9 1809.04H444.6 M438.9 1880.73H444.6 M438.9 1952.42H444.6" stroke="#000" stroke-width="2.0" fill="none"/>
<text transform="translate(437.4 1815.44) scale(0.735 1)" text-anchor="end" font-size="19.5">12</text>
<text transform="translate(437.4 1887.13) scale(0.735 1)" text-anchor="end" font-size="19.5">8</text>
<text transform="translate(437.4 1958.82) scale(0.735 1)" text-anchor="end" font-size="19.5">4</text>
<text transform="translate(437.4 2030.3) scale(0.735 1)" text-anchor="end" font-size="19.5">0</text>
<text transform="translate(444.6 2050.8) scale(0.735 1)" text-anchor="middle" font-size="19.5">-14</text>
<text transform="translate(480 2050.8) scale(0.735 1)" text-anchor="middle" font-size="19.5">0</text>
<text transform="translate(515.7 2050.8) scale(0.735 1)" text-anchor="middle" font-size="19.5">14</text>
<text transform="translate(552.2 2050.8) scale(0.735 1)" text-anchor="middle" font-size="19.5">28</text>
<text transform="translate(597.4 2050.8) scale(0.735 1)" text-anchor="middle" font-size="19.5">40</text>
<text transform="translate(723.5 2050.8) scale(0.735 1)" text-anchor="middle" font-size="19.5">140</text>
<text transform="translate(571.3 2081.8) scale(0.846 1)" text-anchor="middle" font-size="17.5">Timepoint (Day)</text>
<text transform="translate(403.7 1890.6) scale(0.795 1) rotate(-90)" text-anchor="middle" font-size="23.5">IgG (g/L)</text>
<text transform="translate(580.1 1796.7) scale(0.8 1)" text-anchor="middle" font-size="18.3">BZ023-PD</text>
<polyline points="464.7,1923.4 480,1903.3 498.1,1877.4 515.7,1900 534.1,1898.2 552.2,1908.3 585.6,1920.3" fill="none" stroke="#0000ff" stroke-width="2.1" stroke-linejoin="round"/>
<polyline points="594.9,1924.6 671.5,1954" fill="none" stroke="#0000ff" stroke-width="2.1" stroke-linejoin="round"/>
<ellipse cx="464.7" cy="1923.4" rx="4.85" ry="6.1" fill="#0000ff"/>
<ellipse cx="480" cy="1903.3" rx="4.85" ry="6.1" fill="#0000ff"/>
<ellipse cx="498.1" cy="1877.4" rx="4.85" ry="6.1" fill="#0000ff"/>
<ellipse cx="515.7" cy="1900" rx="4.85" ry="6.1" fill="#0000ff"/>
<ellipse cx="534.1" cy="1898.2" rx="4.85" ry="6.1" fill="#0000ff"/>
<ellipse cx="552.2" cy="1908.3" rx="4.85" ry="6.1" fill="#0000ff"/>
<ellipse cx="671.5" cy="1954" rx="4.85" ry="6.1" fill="#0000ff"/>
<line x1="444.6" y1="1880.4" x2="733.9" y2="1880.4" stroke="#000" stroke-width="1.9" stroke-dasharray="6.1 3.69" stroke-dashoffset="1.11"/>
</g>
<g>
<path d="M827.8 1773.8V2030.9 M822.1 2023.9H967.8 M982.4 2023.9H1121.9 M967.8 2019.9V2028.4 M982.4 2019.9V2030.9 M864.3 2023.9V2030.9 M900.2 2023.9V2030.9 M936.4 2023.9V2030.9 M822.1 1809.04H827.8 M822.1 1880.73H827.8 M822.1 1952.42H827.8" stroke="#000" stroke-width="2.0" fill="none"/>
<text transform="translate(820.6 1815.44) scale(0.735 1)" text-anchor="end" font-size="19.5">12</text>
<text transform="translate(820.6 1887.13) scale(0.735 1)" text-anchor="end" font-size="19.5">8</text>
<text transform="translate(820.6 1958.82) scale(0.735 1)" text-anchor="end" font-size="19.5">4</text>
<text transform="translate(820.6 2030.3) scale(0.735 1)" text-anchor="end" font-size="19.5">0</text>
<text transform="translate(827.8 2050.8) scale(0.735 1)" text-anchor="middle" font-size="19.5">-14</text>
<text transform="translate(864.3 2050.8) scale(0.735 1)" text-anchor="middle" font-size="19.5">0</text>
<text transform="translate(900.2 2050.8) scale(0.735 1)" text-anchor="middle" font-size="19.5">14</text>
<text transform="translate(936.4 2050.8) scale(0.735 1)" text-anchor="middle" font-size="19.5">28</text>
<text transform="translate(982.4 2050.8) scale(0.735 1)" text-anchor="middle" font-size="19.5">40</text>
<text transform="translate(956 2081.8) scale(0.846 1)" text-anchor="middle" font-size="17.5">Timepoint (Day)</text>
<text transform="translate(781.2 1890.6) scale(0.795 1) rotate(-90)" text-anchor="middle" font-size="23.5">IgG (g/L)</text>
<text transform="translate(965.9 1795.6) scale(0.8 1)" text-anchor="middle" font-size="18.3">BZ024PR</text>
<polyline points="845.4,1848.5 853.5,1854.2 881.9,1848 900.2,1868.6 918.3,1877.6 936.4,1898.7" fill="none" stroke="#00ff00" stroke-width="2.1" stroke-linejoin="round"/>
<ellipse cx="845.4" cy="1848.5" rx="4.85" ry="6.1" fill="#00ff00"/>
<ellipse cx="853.5" cy="1854.2" rx="4.85" ry="6.1" fill="#00ff00"/>
<ellipse cx="881.9" cy="1848" rx="4.85" ry="6.1" fill="#00ff00"/>
<ellipse cx="900.2" cy="1868.6" rx="4.85" ry="6.1" fill="#00ff00"/>
<ellipse cx="918.3" cy="1877.6" rx="4.85" ry="6.1" fill="#00ff00"/>
<ellipse cx="936.4" cy="1898.7" rx="4.85" ry="6.1" fill="#00ff00"/>
<line x1="827.8" y1="1880.4" x2="1122.4" y2="1880.4" stroke="#000" stroke-width="1.9" stroke-dasharray="6.1 3.73" stroke-dashoffset="2.64"/>
</g>
<g>
<path d="M1215.9 1773.8V2030.9 M1210.2 2023.9H1356.7 M1371.5 2023.9H1511.7 M1356.7 2019.9V2028.4 M1371.5 2019.9V2030.9 M1252.1 2023.9V2030.9 M1288.5 2023.9V2030.9 M1324.5 2023.9V2030.9 M1499.9 2023.9V2030.9 M1210.2 1809.04H1215.9 M1210.2 1880.73H1215.9 M1210.2 1952.42H1215.9" stroke="#000" stroke-width="2.0" fill="none"/>
<text transform="translate(1208.7 1815.44) scale(0.735 1)" text-anchor="end" font-size="19.5">12</text>
<text transform="translate(1208.7 1887.13) scale(0.735 1)" text-anchor="end" font-size="19.5">8</text>
<text transform="translate(1208.7 1958.82) scale(0.735 1)" text-anchor="end" font-size="19.5">4</text>
<text transform="translate(1208.7 2030.3) scale(0.735 1)" text-anchor="end" font-size="19.5">0</text>
<text transform="translate(1215.9 2050.8) scale(0.735 1)" text-anchor="middle" font-size="19.5">-14</text>
<text transform="translate(1252.1 2050.8) scale(0.735 1)" text-anchor="middle" font-size="19.5">0</text>
<text transform="translate(1288.5 2050.8) scale(0.735 1)" text-anchor="middle" font-size="19.5">14</text>
<text transform="translate(1324.5 2050.8) scale(0.735 1)" text-anchor="middle" font-size="19.5">28</text>
<text transform="translate(1371.5 2050.8) scale(0.735 1)" text-anchor="middle" font-size="19.5">40</text>
<text transform="translate(1499.9 2050.8) scale(0.735 1)" text-anchor="middle" font-size="19.5">140</text>
<text transform="translate(1344.2 2081.8) scale(0.846 1)" text-anchor="middle" font-size="17.5">Timepoint (Day)</text>
<text transform="translate(1168.5 1890.6) scale(0.795 1) rotate(-90)" text-anchor="middle" font-size="23.5">IgG (g/L)</text>
<text transform="translate(1354.3 1796.7) scale(0.8 1)" text-anchor="middle" font-size="18.3">BZ025-CR</text>
<polyline points="1234,1861 1252.1,1867.6 1270.5,1850.5 1288.8,1854.7 1306.9,1865.6 1325.7,1874.3 1358,1879.5" fill="none" stroke="#ff0000" stroke-width="2.1" stroke-linejoin="round"/>
<polyline points="1368,1881 1436.8,1890.2 1480.3,1911.3" fill="none" stroke="#ff0000" stroke-width="2.1" stroke-linejoin="round"/>
<ellipse cx="1234" cy="1861" rx="4.85" ry="6.1" fill="#ff0000"/>
<ellipse cx="1252.1" cy="1867.6" rx="4.85" ry="6.1" fill="#ff0000"/>
<ellipse cx="1270.5" cy="1850.5" rx="4.85" ry="6.1" fill="#ff0000"/>
<ellipse cx="1288.8" cy="1854.7" rx="4.85" ry="6.1" fill="#ff0000"/>
<ellipse cx="1306.9" cy="1865.6" rx="4.85" ry="6.1" fill="#ff0000"/>
<ellipse cx="1325.7" cy="1874.3" rx="4.85" ry="6.1" fill="#ff0000"/>
<ellipse cx="1436.8" cy="1890.2" rx="4.85" ry="6.1" fill="#ff0000"/>
<ellipse cx="1480.3" cy="1911.3" rx="4.85" ry="6.1" fill="#ff0000"/>
<line x1="1215.9" y1="1880.4" x2="1510.3" y2="1880.4" stroke="#000" stroke-width="1.9" stroke-dasharray="6.1 3.78" stroke-dashoffset="8.32"/>
</g>
<g>
<path d="M62.8 2128.1V2385.4 M57.1 2378.4H202.8 M217.4 2378.4H357.4 M202.8 2374.4V2382.9 M217.4 2374.4V2385.4 M98.8 2378.4V2385.4 M135.2 2378.4V2385.4 M171.7 2378.4V2385.4 M57.1 2128H62.8 M57.1 2169.69H62.8 M57.1 2211.39H62.8 M57.1 2253.09H62.8 M57.1 2294.78H62.8 M57.1 2336.48H62.8" stroke="#000" stroke-width="2.0" fill="none"/>
<text transform="translate(55.6 2134.4) scale(0.735 1)" text-anchor="end" font-size="19.5">24</text>
<text transform="translate(55.6 2176.09) scale(0.735 1)" text-anchor="end" font-size="19.5">20</text>
<text transform="translate(55.6 2217.79) scale(0.735 1)" text-anchor="end" font-size="19.5">16</text>
<text transform="translate(55.6 2259.49) scale(0.735 1)" text-anchor="end" font-size="19.5">12</text>
<text transform="translate(55.6 2301.18) scale(0.735 1)" text-anchor="end" font-size="19.5">8</text>
<text transform="translate(55.6 2342.88) scale(0.735 1)" text-anchor="end" font-size="19.5">4</text>
<text transform="translate(55.6 2384.8) scale(0.735 1)" text-anchor="end" font-size="19.5">0</text>
<text transform="translate(62.8 2405.3) scale(0.735 1)" text-anchor="middle" font-size="19.5">-14</text>
<text transform="translate(98.8 2405.3) scale(0.735 1)" text-anchor="middle" font-size="19.5">0</text>
<text transform="translate(135.2 2405.3) scale(0.735 1)" text-anchor="middle" font-size="19.5">14</text>
<text transform="translate(171.7 2405.3) scale(0.735 1)" text-anchor="middle" font-size="19.5">28</text>
<text transform="translate(217.4 2405.3) scale(0.735 1)" text-anchor="middle" font-size="19.5">40</text>
<text transform="translate(190.5 2436.3) scale(0.846 1)" text-anchor="middle" font-size="17.5">Timepoint (Day)</text>
<text transform="translate(14.9 2244.5) scale(0.795 1) rotate(-90)" text-anchor="middle" font-size="23.5">IgG (g/L)</text>
<text transform="translate(200.3 2145.7) scale(0.8 1)" text-anchor="middle" font-size="18.3">BZ026-PR</text>
<polyline points="80.4,2193.7 98.8,2209.3 116.9,2157.8 135.2,2192.9 153.3,2227.6 171.7,2239.9" fill="none" stroke="#00ff00" stroke-width="2.1" stroke-linejoin="round"/>
<ellipse cx="80.4" cy="2193.7" rx="4.85" ry="6.1" fill="#00ff00"/>
<ellipse cx="98.8" cy="2209.3" rx="4.85" ry="6.1" fill="#00ff00"/>
<ellipse cx="116.9" cy="2157.8" rx="4.85" ry="6.1" fill="#00ff00"/>
<ellipse cx="135.2" cy="2192.9" rx="4.85" ry="6.1" fill="#00ff00"/>
<ellipse cx="153.3" cy="2227.6" rx="4.85" ry="6.1" fill="#00ff00"/>
<ellipse cx="171.7" cy="2239.9" rx="4.85" ry="6.1" fill="#00ff00"/>
<line x1="62.8" y1="2294.7" x2="356.9" y2="2294.7" stroke="#000" stroke-width="1.9" stroke-dasharray="6.1 3.75" stroke-dashoffset="2.85"/>
</g>
<text transform="translate(193.2 138.2) scale(0.825 1)" font-size="17.5">lower limit of normal</text>
</svg></body></html>
